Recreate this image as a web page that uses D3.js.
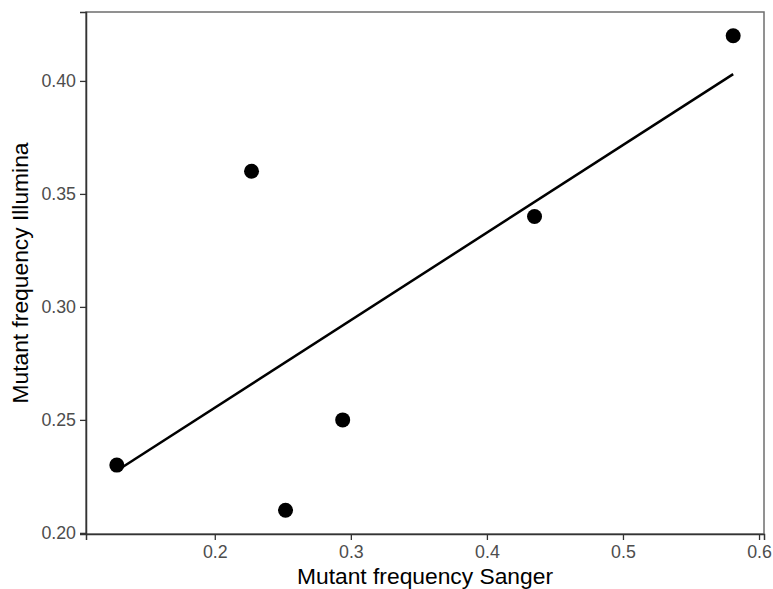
<!DOCTYPE html>
<html>
<head>
<meta charset="utf-8">
<script src="https://cdn.jsdelivr.net/npm/d3@7"></script>
<style>
  body { margin: 0; background: white; }
  text { font-family: "Liberation Sans", Arial, sans-serif; }
</style>
</head>
<body>
<div id="chart"></div>
<script>
var sangerFreq = [0.128, 0.227, 0.252, 0.294, 0.435, 0.581];
var illuminaFreq = [0.23, 0.36, 0.21, 0.25, 0.34, 0.42];
var xTicks = [0.2, 0.3, 0.4, 0.5, 0.6];
var yTicks = [0.20, 0.25, 0.30, 0.35, 0.40];

var width = 773, height = 589;
var panelLeft = 86, panelRight = 764, panelTop = 12, panelBottom = 534;

var points = sangerFreq.map(function (d, i) { return { x: d, y: illuminaFreq[i] }; });

// ggplot style 5% expansion
function expand(ext) {
  var pad = (ext[1] - ext[0]) * 0.05;
  return [ext[0] - pad, ext[1] + pad];
}

var x = d3.scaleLinear().domain(expand(d3.extent(sangerFreq))).range([panelLeft, panelRight]);
var y = d3.scaleLinear().domain(expand(d3.extent(illuminaFreq))).range([panelBottom, panelTop]);

// least squares fit
var mx = d3.mean(sangerFreq), my = d3.mean(illuminaFreq);
var sxy = d3.sum(points, function (d) { return (d.x - mx) * (d.y - my); });
var sxx = d3.sum(points, function (d) { return (d.x - mx) * (d.x - mx); });
var slope = sxy / sxx, intercept = my - slope * mx;
var fit = d3.extent(sangerFreq).map(function (v) { return { x: v, y: intercept + slope * v }; });

var svg = d3.select("#chart").append("svg")
            .attr("width", width)
            .attr("height", height);

svg.append("rect")
   .attr("x", panelLeft).attr("y", panelTop)
   .attr("width", panelRight - panelLeft).attr("height", panelBottom - panelTop)
   .style("fill", "white")
   .style("stroke", "#6e6e6e")
   .style("stroke-width", 1.5);

var xAxis = svg.append("g")
   .attr("transform", "translate(0," + panelBottom + ")")
   .call(d3.axisBottom(x).tickValues(xTicks).tickSize(6).tickPadding(5).tickFormat(d3.format(".1f")));

var yAxis = svg.append("g")
   .attr("transform", "translate(" + panelLeft + ",0)")
   .call(d3.axisLeft(y).tickValues(yTicks).tickSize(6).tickPadding(4).tickFormat(d3.format(".2f")));

[xAxis, yAxis].forEach(function (g) {
  g.attr("font-size", null).attr("font-family", null);
  g.select(".domain").style("stroke", "#333").style("stroke-width", 1.5);
  g.selectAll(".tick line").style("stroke", "#333").style("stroke-width", 1.3);
  g.selectAll(".tick text").style("fill", "#4d4d4d").style("font-size", "17.8px");
});

svg.append("line")
   .attr("x1", x(fit[0].x)).attr("y1", y(fit[0].y))
   .attr("x2", x(fit[1].x)).attr("y2", y(fit[1].y))
   .style("stroke", "black")
   .style("stroke-width", 2.5);

svg.selectAll("circle")
   .data(points)
   .enter()
   .append("circle")
   .attr("cx", function (d) { return x(d.x); })
   .attr("cy", function (d) { return y(d.y); })
   .attr("r", 7.5)
   .style("fill", "black");

svg.append("text")
   .attr("x", (panelLeft + panelRight) / 2)
   .attr("y", 584)
   .attr("text-anchor", "middle")
   .style("font-size", "22.8px")
   .style("fill", "black")
   .text("Mutant frequency Sanger");

svg.append("text")
   .attr("transform", "translate(28," + ((panelTop + panelBottom) / 2) + ") rotate(-90)")
   .attr("text-anchor", "middle")
   .style("font-size", "22.8px")
   .style("fill", "black")
   .text("Mutant frequency Illumina");
</script>
</body>
</html>
